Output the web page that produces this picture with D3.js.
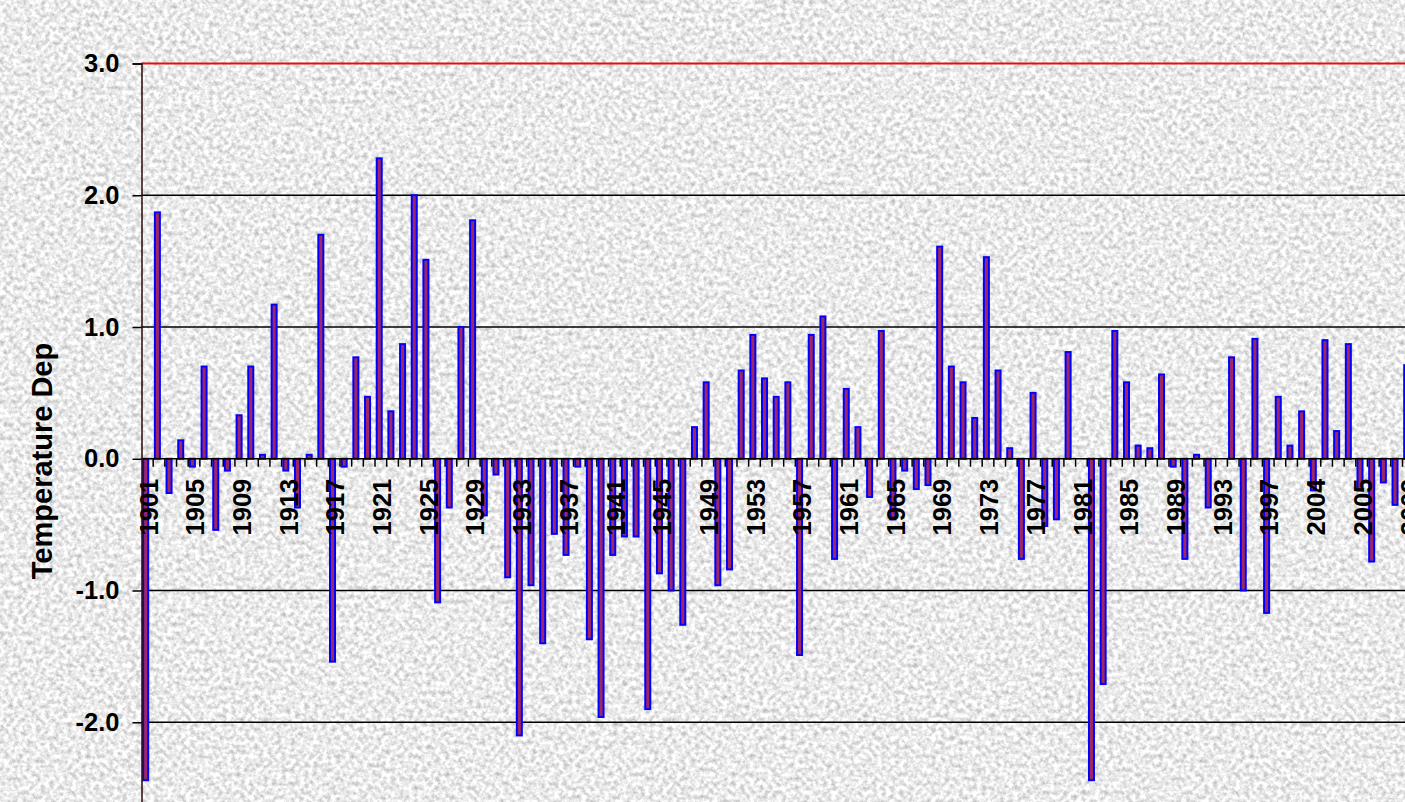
<!DOCTYPE html>
<html lang="en">
<head>
<meta charset="utf-8">
<title>Temperature Departure</title>
<script src="https://d3js.org/d3.v7.min.js"></script>
<style>
body {
	margin: 0;
	background-color: #e6e6e6;
	overflow: hidden;
	font-family: "Liberation Sans", Arial, sans-serif;
}
svg { display: block; }
.tick-label { font-size: 25.5px; font-weight: bold; fill: #000; }
.axis-title { font-size: 29px; font-weight: bold; fill: #000; }
</style>
</head>
<body>
<script>

// years shown on the chart (one bar per year)
var years = d3.range(1901, 2010);

// temperature departure
var values = [
 -2.44, 1.87, -0.26, 0.14, -0.06, 0.70, -0.54, -0.09, 0.33, 0.70,
  0.03, 1.17, -0.09, -0.37, 0.03, 1.70, -1.54, -0.06, 0.77, 0.47,
  2.28, 0.36, 0.87, 2.00, 1.51, -1.09, -0.37, 1.00, 1.81, -0.43,
 -0.12, -0.90, -2.10, -0.96, -1.40, -0.57, -0.73, -0.06, -1.37, -1.96,
 -0.73, -0.59, -0.59, -1.90, -0.87, -1.00, -1.26, 0.24, 0.58, -0.96,
 -0.84, 0.67, 0.94, 0.61, 0.47, 0.58, -1.49, 0.94, 1.08, -0.76,
  0.53, 0.24, -0.29, 0.97, -0.46, -0.09, -0.23, -0.20, 1.61, 0.70,
  0.58, 0.31, 1.53, 0.67, 0.08, -0.76, 0.50, -0.51, -0.46, 0.81,
  0.00, -2.44, -1.71, 0.97, 0.58, 0.10, 0.08, 0.64, -0.06, -0.76,
  0.03, -0.37, 0.00, 0.77, -1.00, 0.91, -1.17, 0.47, 0.10, 0.36,
 -0.24, 0.90, 0.21, 0.87, -0.24, -0.78, -0.18, -0.35, 0.71
];

// labels under every fourth bar, as printed on the chart
var tickLabels = ["1901","1905","1909","1913","1917","1921","1925","1929",
 "1933","1937","1941","1945","1949","1953","1957","1961","1965","1969",
 "1973","1977","1981","1985","1989","1993","1997","2004","2005","2009"];

var yTicks = [-2, -1, 0, 1, 2, 3];

var width = 1405, height = 802;
var left = 141.5, step = 11.676;

var svg = d3.select("body").append("svg")
	.attr("width", width).attr("height", height);

// granite-like background
var defs = svg.append("defs");
var f = defs.append("filter").attr("id", "granite")
	.attr("x", 0).attr("y", 0).attr("width", "100%").attr("height", "100%")
	.attr("color-interpolation-filters", "sRGB");
f.append("feTurbulence").attr("type", "fractalNoise")
	.attr("baseFrequency", 0.22).attr("numOctaves", 3).attr("seed", 7);
f.append("feColorMatrix").attr("type", "matrix")
	.attr("values", "0.5 0 0 0 0.67  0.5 0 0 0 0.67  0.5 0 0 0 0.67  0 0 0 0 1");
svg.append("rect").attr("width", width).attr("height", height)
	.attr("filter", "url(#granite)");

var x = d3.scaleBand()
	.domain(d3.range(years.length))
	.range([left, left + years.length * step])
	.padding(0);

var y = d3.scaleLinear().domain([-3, 3]).range([854, 63.5]);

var bw = x.bandwidth();
var plotRight = left + years.length * step;

// gridlines
svg.append("g").selectAll("line")
	.data(yTicks.filter(function(d) { return d !== 0; }))
	.enter().append("line")
	.attr("x1", left).attr("x2", plotRight)
	.attr("y1", function(d) { return y(d); })
	.attr("y2", function(d) { return y(d); })
	.attr("stroke", function(d) { return d === 3 ? "#dd1111" : "#000"; })
	.attr("stroke-width", function(d) { return d === 3 ? 2.2 : 1.4; });

// bars
svg.append("g").selectAll("rect")
	.data(values)
	.enter().append("rect")
	.attr("x", function(d, i) { return x(i) + bw * 0.145; })
	.attr("width", bw * 0.43)
	.attr("y", function(d) { return y(Math.max(0, d)); })
	.attr("height", function(d) { return Math.abs(y(d) - y(0)); })
	.attr("fill", "#a02860")
	.attr("stroke", "#0000ff")
	.attr("stroke-width", 2);

// x axis line at zero and tick marks between categories
var y0 = y(0);
svg.append("line")
	.attr("x1", left).attr("x2", plotRight)
	.attr("y1", y0).attr("y2", y0)
	.attr("stroke", "#000").attr("stroke-width", 1.5);

svg.append("g").selectAll("line")
	.data(d3.range(1, years.length + 1))
	.enter().append("line")
	.attr("x1", function(i) { return left + i * step; })
	.attr("x2", function(i) { return left + i * step; })
	.attr("y1", y0).attr("y2", y0 + 8)
	.attr("stroke", "#000").attr("stroke-width", 1.5);

// year labels
svg.append("g").selectAll("text")
	.data(tickLabels)
	.enter().append("text")
	.attr("class", "tick-label")
	.attr("text-anchor", "end")
	.attr("transform", function(d, k) {
		var cx = x(k * 4) + bw / 2 + 1;
		return "translate(" + cx + "," + (y0 + 20) + ") rotate(-90)";
	})
	.attr("dy", "0.36em")
	.text(function(d) { return d; });

// y axis
var yAxis = svg.append("g")
	.attr("transform", "translate(" + left + ",0)")
	.call(d3.axisLeft(y).tickValues(yTicks).tickSize(9).tickPadding(13)
		.tickFormat(function(d) { return d.toFixed(1); }));
yAxis.select(".domain").attr("stroke", "#2a0808").attr("stroke-width", 1.5);
yAxis.selectAll(".tick line").attr("stroke", "#000").attr("stroke-width", 1.5);
yAxis.selectAll(".tick text")
	.attr("class", "tick-label")
	.style("font-family", "'Liberation Sans', Arial, sans-serif");

// axis title
svg.append("text")
	.attr("class", "axis-title")
	.attr("text-anchor", "middle")
	.attr("transform", "translate(52,461) rotate(-90)")
	.text("Temperature Dep");

</script>
</body>
</html>
